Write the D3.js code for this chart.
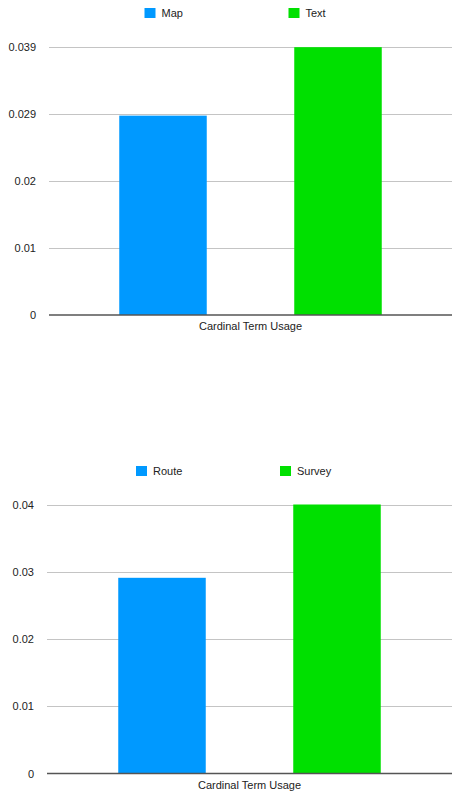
<!DOCTYPE html>
<html><head><meta charset="utf-8">
<script src="https://cdn.jsdelivr.net/npm/d3@7"></script>
<style>
html,body{margin:0;padding:0;background:#fff;}
text{font-family:"Liberation Sans",Arial,Helvetica,sans-serif;}
</style></head>
<body><svg id="c" width="452" height="798"></svg>
<script>
// Chart 1
const categories1 = ["Cardinal Term Usage"];
const series1 = ["Map", "Text"];
const values1 = [0.0297, 0.0399];
const tickValues1 = [0, 0.01, 0.02, 0.03, 0.04];
const tickLabels1 = ["0", "0.01", "0.02", "0.029", "0.039"];
// Chart 2
const categories2 = ["Cardinal Term Usage"];
const series2 = ["Route", "Survey"];
const values2 = [0.0291, 0.04];
const tickValues2 = [0, 0.01, 0.02, 0.03, 0.04];
const tickLabels2 = ["0", "0.01", "0.02", "0.03", "0.04"];

const colors = ["#0099ff", "#00e000"];
const svg = d3.select("#c");

function drawChart(opt){
  const g = svg.append("g");
  const y = d3.scaleLinear().domain([0, 0.04]).range([opt.bottom, opt.top]);
  const x0 = d3.scaleBand().domain(opt.categories).range([opt.left, opt.right]);
  const cx = x0(opt.categories[0]) + x0.bandwidth()/2;
  const x1 = d3.scaleBand().domain(opt.series).range([cx-175, cx+175]).paddingInner(0.5).paddingOuter(0.25);

  // gridlines
  g.selectAll(".grid").data(opt.tickValues.filter(v=>v>0)).enter().append("line")
    .attr("x1", opt.left).attr("x2", opt.right)
    .attr("y1", d=>Math.round(y(d))+0.5).attr("y2", d=>Math.round(y(d))+0.5)
    .attr("stroke", "#c4c4c4").attr("stroke-width", 1);

  // y axis labels
  const ax = d3.axisLeft(y).tickValues(opt.tickValues)
    .tickFormat((d,i)=>opt.tickLabels[i]).tickSize(0).tickPadding(0);
  const ag = g.append("g").attr("transform", `translate(${opt.labelX},0)`).call(ax);
  ag.select(".domain").remove();
  ag.selectAll("text").attr("font-size", 11).attr("fill", "#222")
    .attr("font-family", "'Liberation Sans',Arial,sans-serif");

  // bars
  g.selectAll(".bar").data(opt.series).enter().append("rect")
    .attr("x", d=>x1(d)).attr("width", x1.bandwidth())
    .attr("y", (d,i)=>y(opt.values[i]))
    .attr("height", (d,i)=>y(0)-y(opt.values[i]))
    .attr("fill", (d,i)=>colors[i]);

  // baseline
  g.append("line").attr("x1", opt.left).attr("x2", opt.right)
    .attr("y1", y(0)).attr("y2", y(0))
    .attr("stroke", "#555").attr("stroke-width", 1.3);

  // category label
  g.append("text").attr("x", cx).attr("y", y(0)+15)
    .attr("text-anchor", "middle").attr("font-size", 11).attr("fill", "#222")
    .text(opt.categories[0]);

  // legend
  opt.series.forEach((s,i)=>{
    const lx = opt.legendX[i];
    g.append("rect").attr("x", lx).attr("y", opt.legendY).attr("width", 11).attr("height", 10)
      .attr("fill", colors[i]);
    g.append("text").attr("x", lx+17).attr("y", opt.legendY+9)
      .attr("font-size", 11).attr("fill", "#222").text(s);
  });
}

drawChart({categories:categories1, series:series1, values:values1,
  tickValues:tickValues1, tickLabels:tickLabels1,
  top:46.5, bottom:315, left:49, right:452, labelX:36, legendY:8, legendX:[144.5, 288.5]});
drawChart({categories:categories2, series:series2, values:values2,
  tickValues:tickValues2, tickLabels:tickLabels2,
  top:504.5, bottom:773.5, left:47, right:452, labelX:34, legendY:466, legendX:[136, 280]});
</script></body></html>
